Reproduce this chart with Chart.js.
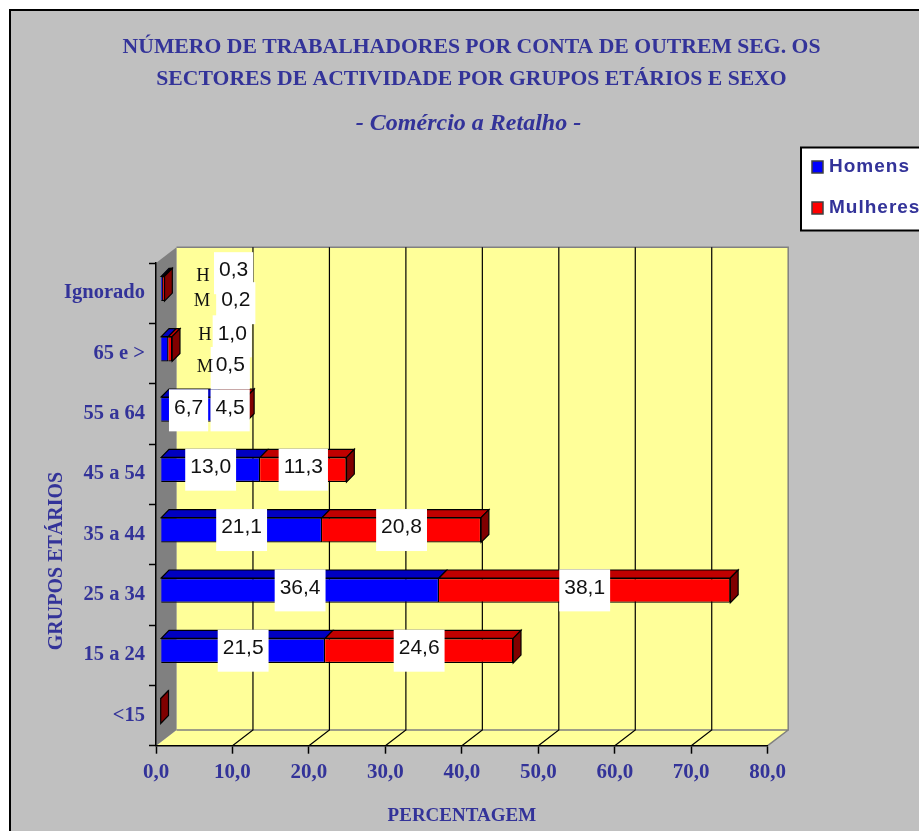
<!DOCTYPE html>
<html lang="pt">
<head>
    <meta charset="UTF-8">
    <title>Comércio a Retalho</title>
    <script src="https://cdn.jsdelivr.net/npm/chart.js"></script>
    <style>
        html, body { margin: 0; padding: 0; background: #fff; overflow: hidden; }
        canvas { display: block; }
    </style>
</head>
<body>
<canvas id="myChart" width="919" height="831"></canvas>
<script>
    const grupos = ['Ignorado', '65 e >', '55 a 64', '45 a 54', '35 a 44', '25 a 34', '15 a 24', '<15'];
    const homens = [0.3, 1.0, 6.7, 13.0, 21.1, 36.4, 21.5, 0];
    const mulheres = [0.2, 0.5, 4.5, 11.3, 20.8, 38.1, 24.6, 0];
    const tituloLinhas = ['NÚMERO DE TRABALHADORES POR CONTA DE OUTREM SEG. OS', 'SECTORES DE ACTIVIDADE POR GRUPOS ETÁRIOS E SEXO'];
    const subtitulo = '- Comércio a Retalho -';
    const tituloX = 'PERCENTAGEM';
    const tituloY = 'GRUPOS ETÁRIOS';

    const azulTexto = '#333399';
    const serif = '"Liberation Serif", serif';
    const sans = '"Liberation Sans", Arial, sans-serif';

    // profundidade do efeito 3D
    const wallDx = 20.5, wallDy = -15.7;
    const barShiftX = 4.7, barShiftY = -4.5;
    const barDx = 7.8, barDy = -8;

    // rotulos arrastados a mao no original: [dataset, categoria, dx, dy]
    const labelMoves = [
        [0, 0, 71.5, -15.5], [1, 0, 72, 14.5],
        [0, 1, 67.5, -12.7], [1, 1, 60, 19],
        [0, 2, 2, 1], [1, 2, 1, 1]
    ];
    // letras H / M junto aos rotulos pequenos: [texto, categoria, x relativo, y relativo]
    const sideLetters = [
        ['H', 0, 47, -13], ['M', 0, 46, 12],
        ['H', 1, 49, -13.5], ['M', 1, 49, 18]
    ];

    const depthPlugin = {
        id: 'depth',
        afterLayout(chart) {
            // titulos centrados no painel e nao na area do eixo
            chart.boxes.filter(b => b.fullSize).forEach(b => {
                b.left = 0;
                b.right = b.options.text === subtitulo ? 937 : 943;
            });
        },
        beforeDraw(chart) {
            const ctx = chart.ctx, x = chart.scales.x, area = chart.chartArea;
            ctx.save();
            ctx.fillStyle = '#fff';
            ctx.fillRect(0, 0, chart.width, chart.height);
            ctx.fillStyle = '#C0C0C0';
            ctx.fillRect(10, 10, chart.width, chart.height);
            ctx.strokeStyle = '#000';
            ctx.lineWidth = 2;
            ctx.beginPath();
            ctx.moveTo(10, chart.height);
            ctx.lineTo(10, 10);
            ctx.lineTo(chart.width, 10);
            ctx.stroke();

            const l = area.left, r = area.right, t = area.top, b = area.bottom;
            // parede de fundo e chao
            ctx.fillStyle = '#FFFF99';
            ctx.beginPath();
            ctx.moveTo(l + wallDx, t + wallDy);
            ctx.lineTo(r + wallDx, t + wallDy);
            ctx.lineTo(r + wallDx, b + wallDy);
            ctx.lineTo(r, b);
            ctx.lineTo(l, b);
            ctx.lineTo(l + wallDx, b + wallDy);
            ctx.closePath();
            ctx.fill();
            // parede lateral
            ctx.fillStyle = '#808080';
            ctx.beginPath();
            ctx.moveTo(l, t);
            ctx.lineTo(l + wallDx, t + wallDy);
            ctx.lineTo(l + wallDx, b + wallDy);
            ctx.lineTo(l, b);
            ctx.closePath();
            ctx.fill();
            // contorno cinzento
            ctx.strokeStyle = '#808080';
            ctx.lineWidth = 1.5;
            ctx.beginPath();
            ctx.moveTo(l + wallDx, b + wallDy);
            ctx.lineTo(r + wallDx, b + wallDy);
            ctx.lineTo(r + wallDx, t + wallDy);
            ctx.lineTo(l + wallDx, t + wallDy);
            ctx.moveTo(r + wallDx, b + wallDy);
            ctx.lineTo(r, b);
            ctx.stroke();
            // linhas de grelha vindas da escala
            ctx.strokeStyle = '#000';
            ctx.lineWidth = 1.2;
            x.ticks.forEach((tick, i) => {
                if (i === 0 || i === x.ticks.length - 1) return;
                const px = x.getPixelForTick(i);
                ctx.beginPath();
                ctx.moveTo(px, b);
                ctx.lineTo(px + wallDx, b + wallDy);
                ctx.lineTo(px + wallDx, t + wallDy);
                ctx.stroke();
            });
            ctx.restore();
        },
        beforeDatasetsDraw(chart) {
            const ctx = chart.ctx;
            ctx.save();
            ctx.translate(barShiftX, barShiftY);
            ctx.strokeStyle = '#000';
            ctx.lineWidth = 1.2;
            chart.data.datasets.forEach((ds, d) => {
                chart.getDatasetMeta(d).data.forEach(bar => {
                    const p = bar.getProps(['x', 'y', 'base', 'height'], true);
                    const top = p.y - p.height / 2, bottom = p.y + p.height / 2;
                    // face de cima
                    ctx.fillStyle = ds.topColor;
                    ctx.beginPath();
                    ctx.moveTo(p.base, top);
                    ctx.lineTo(p.base + barDx, top + barDy);
                    ctx.lineTo(p.x + barDx, top + barDy);
                    ctx.lineTo(p.x, top);
                    ctx.closePath();
                    ctx.fill();
                    ctx.stroke();
                    // face lateral so na ponta da barra empilhada
                    if (d === chart.data.datasets.length - 1) {
                        ctx.fillStyle = ds.sideColor;
                        ctx.beginPath();
                        ctx.moveTo(p.x, top);
                        ctx.lineTo(p.x + barDx, top + barDy);
                        ctx.lineTo(p.x + barDx, bottom + barDy);
                        ctx.lineTo(p.x, bottom);
                        ctx.closePath();
                        ctx.fill();
                        ctx.stroke();
                    }
                });
            });
        },
        afterDatasetsDraw(chart) {
            const ctx = chart.ctx;
            ctx.restore();
            ctx.save();
            // rotulos com caixa branca
            ctx.font = '21px ' + sans;
            ctx.textAlign = 'center';
            ctx.textBaseline = 'middle';
            chart.data.datasets.forEach((ds, d) => {
                chart.getDatasetMeta(d).data.forEach((bar, i) => {
                    const v = ds.data[i];
                    if (!v) return;
                    const p = bar.getProps(['x', 'y', 'base'], true);
                    const move = labelMoves.find(m => m[0] === d && m[1] === i);
                    const cx = (p.x + p.base) / 2 + barShiftX + (move ? move[2] : 0);
                    const cy = p.y + barShiftY + (move ? move[3] : 0);
                    const txt = v.toFixed(1).replace('.', ',');
                    const w = ctx.measureText(txt).width + 10;
                    ctx.fillStyle = '#fff';
                    ctx.fillRect(cx - w / 2, cy - 21, w, 42);
                });
            });
            chart.data.datasets.forEach((ds, d) => {
                chart.getDatasetMeta(d).data.forEach((bar, i) => {
                    const v = ds.data[i];
                    if (!v) return;
                    const p = bar.getProps(['x', 'y', 'base'], true);
                    const move = labelMoves.find(m => m[0] === d && m[1] === i);
                    const cx = (p.x + p.base) / 2 + barShiftX + (move ? move[2] : 0);
                    const cy = p.y + barShiftY + (move ? move[3] : 0);
                    ctx.fillStyle = '#111';
                    ctx.fillText(v.toFixed(1).replace('.', ','), cx, cy - 2.5);
                });
            });
            const y = chart.scales.y, x = chart.scales.x;
            ctx.font = '18.5px ' + serif;
            ctx.fillStyle = '#111';
            sideLetters.forEach(s => {
                ctx.fillText(s[0], x.left + s[2], y.getPixelForValue(s[1]) + barShiftY + s[3]);
            });

            // titulo do eixo vertical, deslocado como no original
            ctx.save();
            ctx.translate(57, 561);
            ctx.rotate(-Math.PI / 2);
            ctx.font = 'bold 20px ' + serif;
            ctx.fillStyle = azulTexto;
            ctx.fillText(tituloY, 0, 0);
            ctx.restore();

            // legenda
            ctx.fillStyle = '#fff';
            ctx.fillRect(801, 147.5, 130, 83);
            ctx.strokeStyle = '#000';
            ctx.lineWidth = 2;
            ctx.strokeRect(801, 147.5, 130, 83);
            ctx.textAlign = 'left';
            ctx.font = 'bold 19px ' + sans;
            ctx.letterSpacing = '1px';
            chart.data.datasets.forEach((ds, d) => {
                const ly = 167 + d * 41;
                ctx.fillStyle = ds.backgroundColor;
                ctx.strokeStyle = '#404040';
                ctx.lineWidth = 1.5;
                ctx.fillRect(812, ly - 6, 11, 12);
                ctx.strokeRect(812, ly - 6, 11, 12);
                ctx.fillStyle = azulTexto;
                ctx.fillText(ds.label, 829, ly);
            });
            ctx.letterSpacing = '0px';
            ctx.restore();
        }
    };

    new Chart(document.getElementById('myChart'), {
        type: 'bar',
        data: {
            labels: grupos,
            datasets: [
                { label: 'Homens', data: homens, backgroundColor: '#0000FF', topColor: '#0000C0', sideColor: '#000080', borderColor: '#000', borderWidth: 1.2 },
                { label: 'Mulheres', data: mulheres, backgroundColor: '#FF0000', topColor: '#C00000', sideColor: '#800000', borderColor: '#000', borderWidth: 1.2 }
            ]
        },
        options: {
            indexAxis: 'y',
            responsive: false,
            animation: false,
            barPercentage: 0.41,
            categoryPercentage: 1,
            layout: { padding: { left: 0, right: 151.3, top: 0, bottom: 0 } },
            plugins: {
                legend: { display: false },
                tooltip: { enabled: false },
                title: {
                    display: true,
                    text: tituloLinhas,
                    color: azulTexto,
                    font: { family: serif, size: 21.7, weight: 'bold', lineHeight: 1.475 },
                    padding: { top: 31, bottom: 13 }
                },
                subtitle: {
                    display: true,
                    text: subtitulo,
                    color: azulTexto,
                    font: { family: serif, size: 24, weight: 'bold', style: 'italic', lineHeight: 1.333 },
                    padding: { top: 0, bottom: 123 }
                }
            },
            scales: {
                x: {
                    stacked: true,
                    min: 0,
                    max: 80,
                    afterFit(scale) { scale.height = 85.3; },
                    border: { color: '#000', width: 1.5 },
                    grid: { drawOnChartArea: false, color: '#000', tickLength: 8, tickWidth: 1.5 },
                    ticks: {
                        stepSize: 10,
                        maxRotation: 0,
                        padding: 6,
                        color: azulTexto,
                        font: { family: serif, size: 21, weight: 'bold' },
                        callback: v => v.toFixed(1).replace('.', ',')
                    },
                    title: {
                        display: true,
                        text: tituloX,
                        color: azulTexto,
                        font: { family: serif, size: 19, weight: 'bold' },
                        padding: { top: 0, bottom: 4 }
                    }
                },
                y: {
                    stacked: true,
                    afterFit(scale) { scale.width = 156; },
                    border: { color: '#000', width: 1.5 },
                    grid: { drawOnChartArea: false, color: '#000', tickLength: 7, tickWidth: 1.5 },
                    ticks: {
                        padding: 4,
                        color: azulTexto,
                        font: { family: serif, size: 20.5, weight: 'bold' }
                    }
                }
            }
        },
        plugins: [depthPlugin]
    });
</script>
</body>
</html>
